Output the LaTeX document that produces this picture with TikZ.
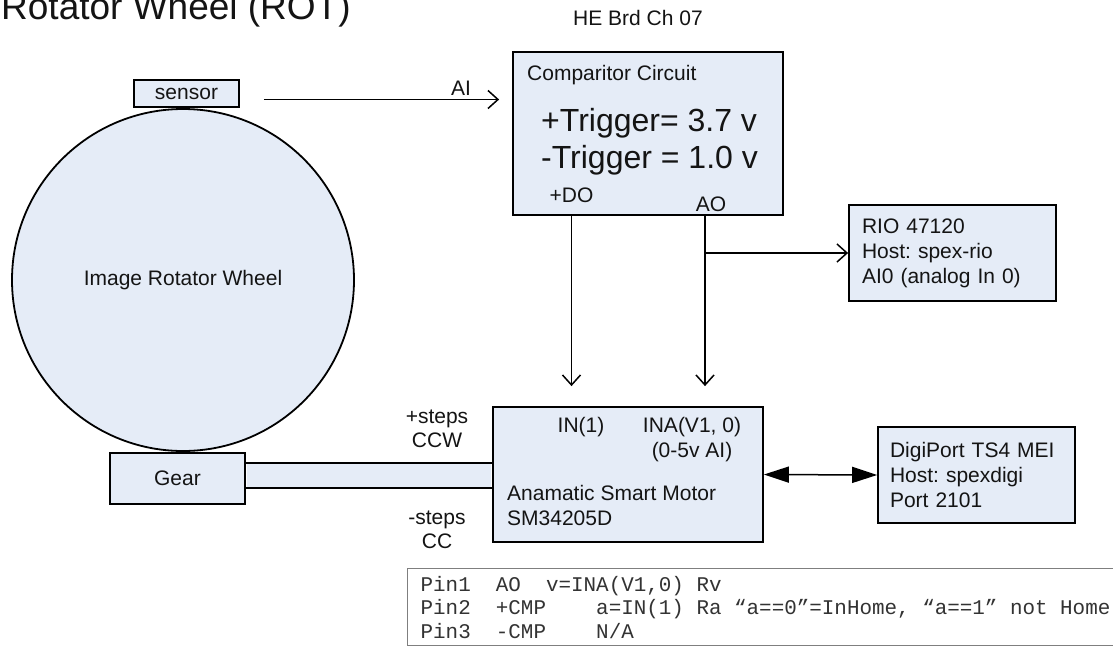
\documentclass[tikz,border=0pt]{standalone}
\usepackage{fontspec}
\setmainfont{Liberation Sans}
\setmonofont{Liberation Mono}
\usetikzlibrary{arrows.meta,positioning,calc}
\definecolor{BoxBlue}{HTML}{E5ECF7}
\definecolor{InkBlack}{HTML}{141414}
\definecolor{TableGray}{HTML}{7F7F7F}
\frenchspacing
\newcommand{\monospaces}{\spaceskip=0.6em\relax\xspaceskip=0.6em\relax}

\begin{document}
\begin{tikzpicture}[
    x=1pt, y=-1pt,
    font=\fontsize{21}{25}\selectfont, text=InkBlack,
    unitbox/.style={draw=black, fill=BoxBlue, line width=1.8pt, inner sep=0pt},
    lbl/.style={inner sep=0pt},
    openarrow/.style={-{Straight Barb[length=10pt,width=18pt,line width=1.5pt]}, line width=1.5pt},
    bothsolid/.style={{Triangle[length=25pt,width=16pt]}-{Triangle[length=25pt,width=16pt]}, line width=1.5pt}
]
  \fill[white] (0,0) rectangle (1113,646);
  \useasboundingbox (0,0) rectangle (1113,646);

  % -------------------------------------------------------------
  % TITULOS
  % -------------------------------------------------------------
  \node[lbl, anchor=base west, font=\fontsize{37}{40}\selectfont] (title) at (1,19) {Rotator Wheel (ROT)};
  \node[lbl] (board) at (638,18) {HE Brd Ch 07};

  % -------------------------------------------------------------
  % RODA, SENSOR E ENGRENAGEM
  % -------------------------------------------------------------
  \node[unitbox, circle, minimum size=342pt] (wheel) at (183,280) {Image Rotator Wheel};
  \node[unitbox, minimum width=105pt, minimum height=27pt] (sensor) at (186.5,93.5) {sensor};
  \node[unitbox, minimum width=135pt, minimum height=51pt] (gear) at (177.5,478.5) {Gear};

  % -------------------------------------------------------------
  % COMPARADOR
  % -------------------------------------------------------------
  \node[unitbox, minimum width=270pt, minimum height=163pt] (comp) at (648,133.5) {};
  \node[lbl, anchor=west] (compTitle) at (527,75) {Comparitor Circuit};
  \node[lbl, anchor=west, align=left, font=\fontsize{32}{37}\selectfont] (trig) at (541,141.5) {+Trigger= 3.7 v\\-Trigger = 1.0 v};
  \node[lbl] (doLbl) at (571.5,195) {+DO};
  \node[lbl] (aoLbl) at (711,204) {AO};

  % RIO
  \node[unitbox, minimum width=207pt, minimum height=96pt, text width=181pt, align=left] (rio) at (952.5,253) {RIO 47120\\Host: spex-rio\\AI0 (analog In 0)};

  % -------------------------------------------------------------
  % MOTOR E DIGIPORT
  % -------------------------------------------------------------
  \node[unitbox, minimum width=270pt, minimum height=135pt] (motor) at (628,474.5) {};
  \node[lbl] (inPin) at (581,427) {IN(1)};
  \node[lbl, align=center] (inaPin) at (692,439.5) {INA(V1, 0)\\(0-5v AI)};
  \node[lbl, anchor=west, align=left] (motorName) at (507,505) {Anamatic Smart Motor\\SM34205D};

  \node[unitbox, minimum width=197pt, minimum height=96pt, text width=173pt, align=left] (digi) at (976.5,475) {DigiPort TS4 MEI\\Host: spexdigi\\Port 2101};

  % Eixo
  \coordinate (shaftTop) at ($(motor.west)+(0,-11.5)$);
  \coordinate (shaftBot) at ($(motor.west)+(0,13.5)$);
  \fill[BoxBlue] ([xshift=1pt]gear.east |- shaftTop) rectangle ([xshift=-1pt]shaftBot);
  \draw[line width=1.8pt] (gear.east |- shaftTop) -- (shaftTop);
  \draw[line width=1.8pt] (gear.east |- shaftBot) -- (shaftBot);

  \node[lbl, align=center, font=\fontsize{21}{24}\selectfont] (stepsPlus) at (437,428.5) {+steps\\CCW};
  \node[lbl, align=center, font=\fontsize{21}{24}\selectfont] (stepsMinus) at (437,529.5) {-steps\\CC};

  % -------------------------------------------------------------
  % LIGACOES
  % -------------------------------------------------------------
  \draw[openarrow, shorten <=24pt, shorten >=13pt] ([yshift=-6pt]sensor.east) -- ([yshift=-6pt]sensor.east -| comp.west);
  \node[lbl] (aiLbl) at (461,88) {AI};

  \coordinate (doPin) at (doLbl |- comp.south);
  \coordinate (aoPin) at (705,215);
  \draw[openarrow, shorten >=20pt] (doPin) -- (doPin |- motor.north);
  \draw[openarrow, shorten >=20pt] (aoPin) -- (aoPin |- motor.north);
  \draw[openarrow] (aoPin |- rio.west) -- (rio.west);
  \draw[bothsolid] (motor.east) -- (digi.west);

  % Tabela de pinos
  \node[draw=TableGray, fill=white, line width=1.3pt, anchor=north west, minimum height=77pt, text width=720pt, inner xsep=13pt, inner ysep=0pt, align=left, text=black!80, font=\ttfamily\fontsize{20.9}{23.5}\selectfont] (pinTable) at (407,568) {\monospaces Pin1~~AO~~v=INA(V1,0) Rv\\Pin2~~+CMP~~~~a=IN(1) Ra “a==0”=InHome, “a==1” not Home\\Pin3~~-CMP~~~~N/A};

\end{tikzpicture}
\end{document}
